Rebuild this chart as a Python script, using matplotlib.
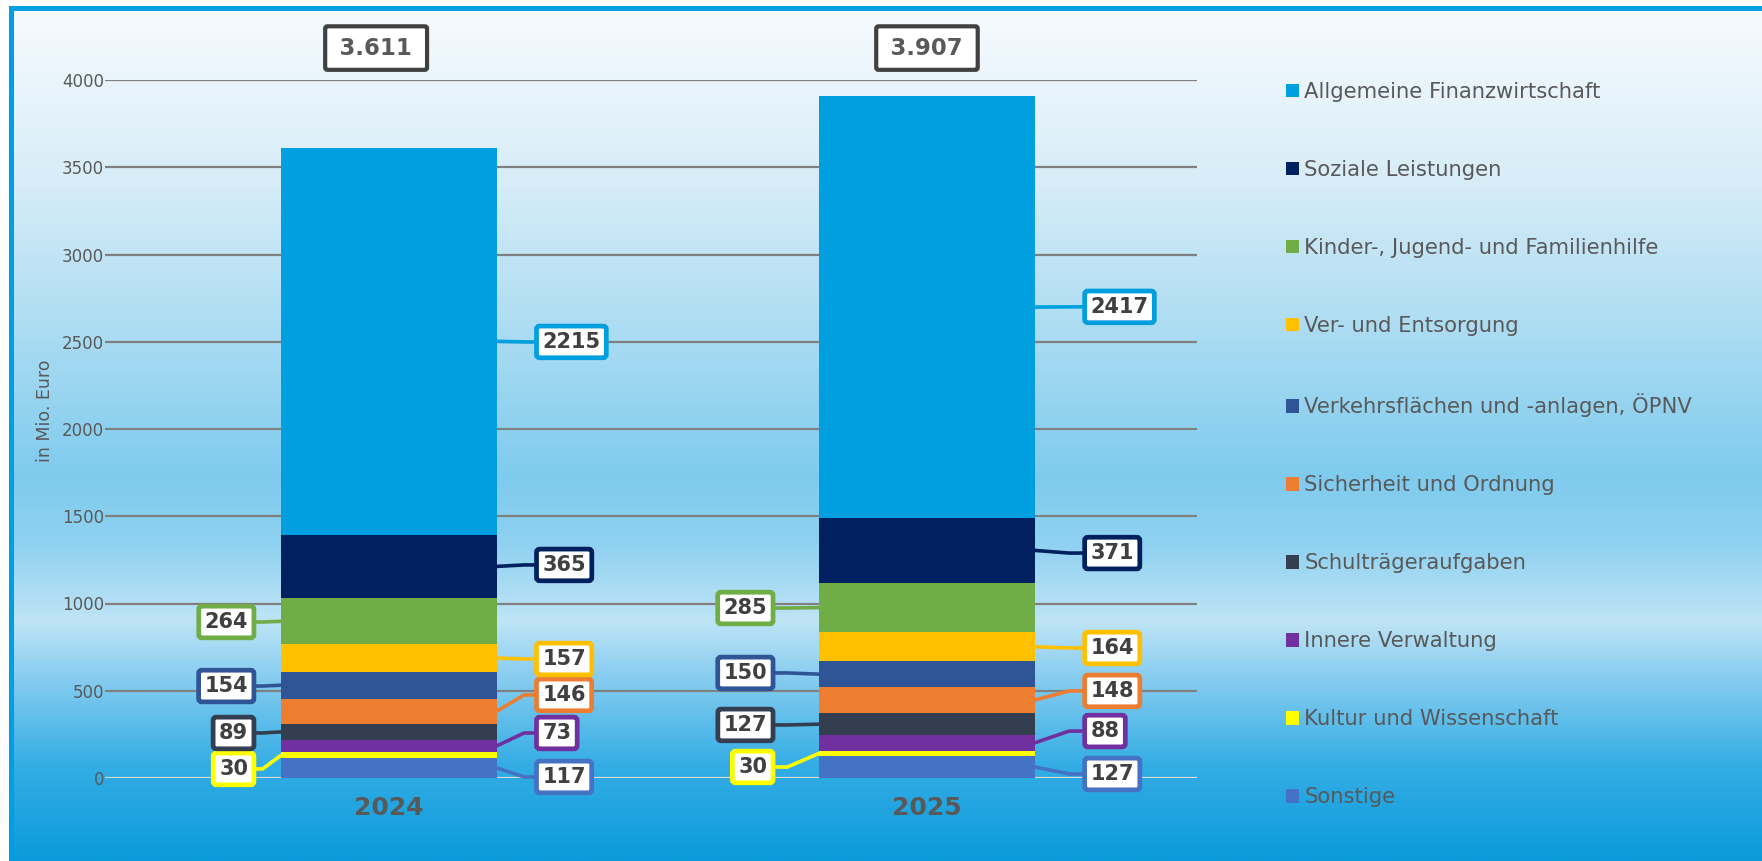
import numpy as np
import matplotlib
matplotlib.use("Agg")
import matplotlib.pyplot as plt
from matplotlib.patches import Patch, Rectangle
from matplotlib.colors import LinearSegmentedColormap

# data
years = ["2024", "2025"]
categories = [
    "Sonstige",
    "Kultur und Wissenschaft",
    "Innere Verwaltung",
    "Schulträgeraufgaben",
    "Sicherheit und Ordnung",
    "Verkehrsflächen und -anlagen, ÖPNV",
    "Ver- und Entsorgung",
    "Kinder-, Jugend- und Familienhilfe",
    "Soziale Leistungen",
    "Allgemeine Finanzwirtschaft",
]
values_2024 = [117, 30, 73, 89, 146, 154, 157, 264, 365, 2215]
values_2025 = [127, 30, 88, 127, 148, 150, 164, 285, 371, 2417]
totals = [3611, 3907]

colors = ["#4472C4", "#FFFF00", "#7030A0", "#333F50", "#ED7D31",
          "#2F5597", "#FFC000", "#70AD47", "#002060", "#009FDF"]

# label layout (which side, and where the boxes sit)
label_side = ["R", "L", "R", "L", "R", "L", "R", "L", "R", "R"]
label_y = [
    [6, 52, 258, 258, 476, 527, 682, 894, 1221, 2499],
    [23, 63, 269, 304, 499, 602, 745, 974, 1289, 2700],
]
gap_left = [0.05, 0.085]
gap_right = [0.073, 0.092]
total_dx = [-0.024, 0.0]

W, H = 1762, 861
fig = plt.figure(figsize=(W / 100, H / 100), dpi=100)

# background gradient + frame
bg = fig.add_axes([0, 0, 1, 1], zorder=-10)
bg.set_xlim(0, W)
bg.set_ylim(H, 0)
bg.axis("off")
stops = [(0.0, "#f7fbfe"), (0.2, "#d8edf8"), (0.39, "#a9dbf2"), (0.55, "#7fcbee"),
         (0.63, "#8fd1f0"), (0.72, "#bfe4f6"), (0.78, "#8ccff0"), (0.89, "#34ade5"),
         (1.0, "#0b9bdb")]
cmap = LinearSegmentedColormap.from_list("bg", stops)
grad = np.linspace(0, 1, 512).reshape(-1, 1)
bg.imshow(grad, cmap=cmap, aspect="auto", extent=[9, W, H, 6], interpolation="bilinear")
bg.add_patch(Rectangle((9, 6), W - 9, 5, color="#009FE3", lw=0))
bg.add_patch(Rectangle((9, 6), 5, H - 6, color="#009FE3", lw=0))

ax = fig.add_axes([105 / W, 1 - 778 / H, 1092 / W, 698 / H])
ax.set_facecolor("none")
ax.set_xlim(-0.528, 1.502)
ax.set_ylim(0, 4000)
for s in ax.spines.values():
    s.set_visible(False)

ticks = np.arange(0, 4001, 500)
ax.set_yticks(ticks)
for t in ticks:
    ax.axhline(t, color="#d9d9d9" if t == 0 else "#808080", lw=1.6, zorder=0)
ax.tick_params(axis="y", length=0, pad=0.5, labelsize=12, labelcolor="#595959")
ax.tick_params(axis="x", length=0, pad=13)
ax.set_xticks([0, 1])
ax.set_xticklabels(years, fontsize=18, fontweight="bold", color="#595959")
ax.set_ylabel("in Mio. Euro", fontsize=12.5, color="#595959")
ax.yaxis.set_label_coords(-0.047, 0.526)

bw = 0.40
data = [values_2024, values_2025]
for i, vals in enumerate(data):
    bottom = 0
    for j, v in enumerate(vals):
        ax.bar(i, v, bw, bottom=bottom, color=colors[j], zorder=2, lw=0)
        mid = bottom + v / 2
        ly = label_y[i][j]
        if label_side[j] == "R":
            edge = i + bw / 2
            tx = edge + gap_right[i] + 0.012
            pts_x = [edge, edge + gap_right[i] * 0.7, tx + 0.03]
            ha = "left"
        else:
            edge = i - bw / 2
            tx = edge - gap_left[i] - 0.012
            pts_x = [edge, edge - gap_left[i] * 0.7, tx - 0.03]
            ha = "right"
        ax.plot(pts_x, [mid, ly, ly], color=colors[j], lw=2.6, zorder=3,
                solid_capstyle="butt", clip_on=False)
        ax.text(tx, ly, str(v), ha=ha, va="center", fontsize=15, fontweight="bold",
                color="#404040", zorder=5,
                bbox=dict(boxstyle="round,pad=0.28,rounding_size=0.15", fc="white",
                          ec=colors[j], lw=3.4))
        bottom += v
    ax.text(i + total_dx[i], 4183, "\u2009" + f"{totals[i]:,}".replace(",", ".") + "\u2009",
            ha="center", va="center", fontsize=16.4, fontweight="bold", color="#595959",
            zorder=5, clip_on=False,
            bbox=dict(boxstyle="round,pad=0.45,rounding_size=0.1", fc="white",
                      ec="#404040", lw=3))

handles = [Patch(facecolor=c, edgecolor="none") for c in colors[::-1]]
fig.legend(handles, categories[::-1], loc="upper left",
           bbox_to_anchor=(1286 / W, 1 - 82 / H), frameon=False, fontsize=15.2,
           labelcolor="#595959", handlelength=0.62, handleheight=0.62,
           handletextpad=0.25, labelspacing=2.745, borderpad=0, borderaxespad=0)

fig.savefig("out.png", dpi=100)
